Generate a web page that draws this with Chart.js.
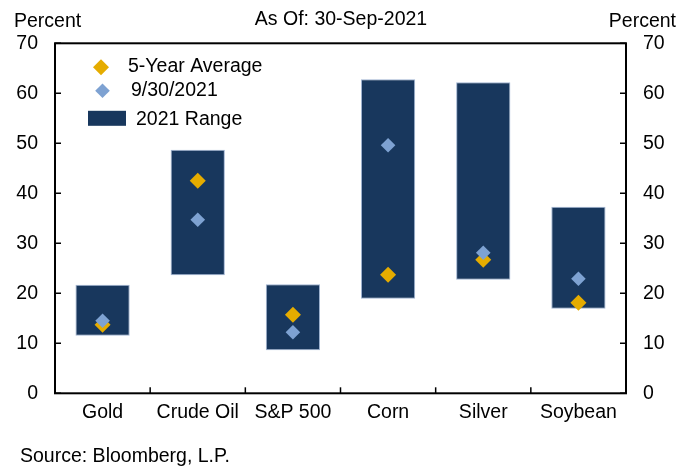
<!DOCTYPE html>
<html>
<head>
<meta charset="utf-8">
<script src="https://cdn.jsdelivr.net/npm/chart.js@4/dist/chart.umd.min.js"></script>
<style>
    body { margin: 0; background: #fff; }
    #wrap { position: relative; width: 682px; height: 466px; font-family: "Liberation Sans", Arial, sans-serif; color: #000; }
    .lbl { position: absolute; font-size: 19.5px; line-height: 22px; }
</style>
</head>
<body>
<div id="wrap">
    <canvas id="rangeChart" width="682" height="466"></canvas>
    <div class="lbl" style="left:14px; top:9px;">Percent</div>
    <div class="lbl" style="right:6px; top:9px;">Percent</div>
    <div class="lbl" style="left:20px; top:444px;">Source: Bloomberg, L.P.</div>
</div>
<script>
    var assets = ['Gold', 'Crude Oil', 'S&P 500', 'Corn', 'Silver', 'Soybean'];
    var range_low = [11.5, 23.6, 8.6, 18.9, 22.7, 16.9];
    var range_high = [21.7, 48.7, 21.8, 62.8, 62.2, 37.3];
    var five_year_avg = [13.7, 42.5, 15.7, 23.7, 26.7, 18.1];
    var current_vol = [14.5, 34.7, 12.2, 49.6, 28.1, 22.9];
    var y_ticks = [0, 10, 20, 30, 40, 50, 60, 70];

    var NAVY = '#18375d';
    var GOLD = '#e5ac00';
    var LIGHT = '#7ea2d2';
    var FONT = '"Liberation Sans", Arial, sans-serif';
    var FSIZE = 19.5;

    var ranges = range_low.map(function(lo, i) { return [lo, range_high[i]]; });

    function diamond(ctx, x, y, r, color) {
        ctx.beginPath();
        ctx.moveTo(x, y - r);
        ctx.lineTo(x + r, y);
        ctx.lineTo(x, y + r);
        ctx.lineTo(x - r, y);
        ctx.closePath();
        ctx.fillStyle = color;
        ctx.fill();
    }

    // frame, inward ticks and the in-plot legend
    var decorations = {
        id: 'decorations',
        afterDraw: function(chart) {
            var ctx = chart.ctx;
            var a = chart.chartArea;
            var y = chart.scales.y;
            ctx.save();
            ctx.strokeStyle = '#000';
            ctx.lineWidth = 1.5;
            y_ticks.forEach(function(v) {
                var py = y.getPixelForValue(v);
                ctx.beginPath();
                ctx.moveTo(a.left, py); ctx.lineTo(a.left + 6, py);
                ctx.moveTo(a.right, py); ctx.lineTo(a.right - 6, py);
                ctx.stroke();
            });
            var step = (a.right - a.left) / assets.length;
            for (var i = 1; i < assets.length; i++) {
                var px = a.left + step * i;
                ctx.beginPath();
                ctx.moveTo(px, a.bottom); ctx.lineTo(px, a.bottom - 6);
                ctx.stroke();
            }
            ctx.lineWidth = 2;
            ctx.strokeRect(a.left, a.top, a.right - a.left, a.bottom - a.top);

            // legend
            var lx = a.left, ly = a.top;
            ctx.font = FSIZE + 'px ' + FONT;
            ctx.textBaseline = 'middle';
            diamond(ctx, lx + 46, ly + 24, 8, GOLD);
            ctx.fillStyle = '#000';
            ctx.fillText('5-Year Average', lx + 73, ly + 23);
            diamond(ctx, lx + 47.5, ly + 47.5, 7.3, LIGHT);
            ctx.fillStyle = '#000';
            ctx.fillText('9/30/2021', lx + 76, ly + 47);
            ctx.fillStyle = NAVY;
            ctx.fillRect(lx + 33, ly + 67.5, 38, 15);
            ctx.fillStyle = '#000';
            ctx.fillText('2021 Range', lx + 81, ly + 76);
            ctx.restore();
        }
    };

    var ctxRange = document.getElementById('rangeChart').getContext('2d');
    var rangeChart = new Chart(ctxRange, {
        type: 'bar',
        data: {
            labels: assets,
            datasets: [{
                type: 'line',
                label: '9/30/2021',
                data: current_vol,
                showLine: false,
                pointStyle: 'rectRot',
                pointRadius: 7.3,
                pointBackgroundColor: LIGHT,
                pointBorderWidth: 0,
                order: 1
            }, {
                type: 'line',
                label: '5-Year Average',
                data: five_year_avg,
                showLine: false,
                pointStyle: 'rectRot',
                pointRadius: 8,
                pointBackgroundColor: GOLD,
                pointBorderWidth: 0,
                order: 2
            }, {
                label: '2021 Range',
                data: ranges,
                backgroundColor: NAVY,
                borderColor: 'rgba(150,172,205,0.9)',
                borderWidth: 1,
                borderSkipped: false,
                barPercentage: 0.57,
                categoryPercentage: 1,
                order: 3
            }]
        },
        options: {
            responsive: false,
            animation: false,
            layout: { padding: 0 },
            plugins: {
                legend: { display: false },
                tooltip: { enabled: false },
                title: {
                    display: true,
                    text: 'As Of: 30-Sep-2021',
                    color: '#000',
                    font: { family: FONT, size: FSIZE, weight: 'normal' },
                    padding: { top: 8, bottom: 11.9 }
                }
            },
            scales: {
                x: {
                    grid: { display: false, drawTicks: false },
                    border: { display: false },
                    ticks: { color: '#000', font: { family: FONT, size: FSIZE }, padding: 7.5 },
                    afterFit: function(s) { s.height = 72.7; }
                },
                y: {
                    position: 'left',
                    min: 0, max: 70,
                    grid: { display: false, drawTicks: false },
                    border: { display: false },
                    ticks: { stepSize: 10, color: '#000', font: { family: FONT, size: FSIZE }, padding: 17 },
                    afterFit: function(s) { s.width = 55; }
                },
                y2: {
                    position: 'right',
                    min: 0, max: 70,
                    grid: { display: false, drawTicks: false },
                    border: { display: false },
                    ticks: { stepSize: 10, color: '#000', font: { family: FONT, size: FSIZE }, padding: 17 },
                    afterFit: function(s) { s.width = 56; }
                }
            }
        },
        plugins: [decorations]
    });
</script>
</body>
</html>
